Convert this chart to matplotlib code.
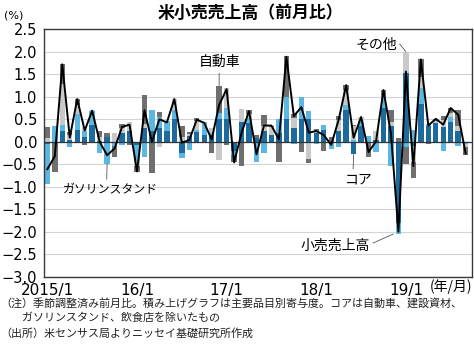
import numpy as np
import matplotlib
matplotlib.use("Agg")
import matplotlib.pyplot as plt

plt.rcParams['font.family'] = ['Noto Sans CJK JP', 'DejaVu Sans']

x_labels = ['2015/1', '16/1', '17/1', '18/1', '19/1']
x_label_pos = [0, 12, 24, 36, 48]

series_names = ['コア', 'ガソリンスタンド', 'その他', '自動車']

core = [-0.06, 0.00, 0.23, 0.05, 0.27, 0.10, 0.38, 0.02, 0.10, 0.00, 0.20, 0.25,
        -0.08, 0.30, 0.25, 0.30, 0.25, 0.50, -0.25, 0.12, 0.22, 0.15, 0.15, 0.50,
        0.50, -0.20, 0.45, 0.42, 0.08, 0.25, 0.15, 0.20, 0.50, 0.30, 0.50, 0.50,
        0.20, 0.27, 0.00, 0.24, 0.70, -0.28, 0.35, 0.00, 0.05, 0.75, 0.35, -1.80,
        1.53, -0.10, 0.85, 0.35, 0.42, 0.33, 0.45, 0.25, 0.00]
gas = [-0.89, 0.36, 0.15, -0.12, 0.35, 0.15, 0.30, -0.25, -0.50, -0.10, -0.08, 0.00,
       -0.35, -0.35, 0.45, 0.25, 0.22, 0.20, -0.12, -0.18, 0.05, 0.28, 0.05, 0.15,
       0.25, -0.10, 0.00, 0.10, -0.45, -0.25, 0.00, 0.30, 0.50, -0.05, 0.50, 0.18,
       -0.04, 0.11, -0.17, -0.12, 0.12, 0.05, 0.08, 0.12, -0.23, 0.28, -0.54, -0.25,
       -0.12, 0.27, 0.35, 0.05, 0.00, -0.20, 0.10, -0.10, -0.06]
other = [0.09, 0.00, 0.90, 0.10, 0.20, 0.08, 0.02, 0.08, 0.00, 0.20, 0.10, 0.20,
         -0.10, 0.10, 0.00, -0.12, 0.00, 0.25, 0.10, 0.05, 0.20, 0.00, 0.10, -0.40,
         0.45, 0.00, 0.28, 0.10, 0.00, 0.10, 0.18, 0.00, 0.00, 0.22, 0.00, -0.38,
         0.05, 0.00, 0.00, 0.25, 0.33, 0.30, 0.12, -0.02, 0.20, 0.00, 0.10, 0.00,
         0.47, -0.35, 0.25, 0.00, 0.05, 0.15, 0.10, 0.10, -0.06]
auto = [0.24, -0.68, 0.45, 0.06, 0.13, -0.08, 0.00, 0.15, 0.10, -0.25, 0.10, -0.07,
        -0.15, 0.65, -0.70, 0.12, 0.00, 0.00, 0.25, 0.05, 0.05, 0.00, -0.25, 0.60,
        -0.08, -0.15, -0.53, 0.08, 0.08, 0.25, 0.03, -0.45, 0.90, 0.10, -0.23, -0.10,
        0.03, -0.21, 0.11, 0.08, 0.11, 0.02, 0.00, -0.33, 0.00, 0.12, 0.25, 0.08,
        -0.38, -0.35, 0.38, -0.05, 0.04, 0.10, 0.10, 0.35, -0.18]
total = [-0.61, -0.32, 1.72, 0.09, 0.95, 0.25, 0.69, 0.00, -0.30, -0.15, 0.33, 0.38,
         -0.66, 0.70, 0.00, 0.50, 0.43, 0.95, -0.02, 0.04, 0.49, 0.42, 0.05, 0.82,
         1.17, -0.46, 0.20, 0.68, -0.28, 0.36, 0.36, 0.05, 1.89, 0.57, 0.77, 0.20,
         0.24, 0.15, -0.07, 0.49, 1.26, 0.09, 0.55, -0.23, 0.01, 1.15, 0.18, -2.00,
         1.56, -0.54, 1.83, 0.36, 0.51, 0.38, 0.75, 0.60, -0.26]

colors = ['#1d6b9e', '#5bb8e2', '#c9c9c9', '#6f6f6f']

W, H = 474, 353
fig = plt.figure(figsize=(W / 100, H / 100), dpi=100)
ax = fig.add_axes([44 / W, 1 - 276.7 / H, (472 - 44) / W, (276.7 - 29.3) / H])

n = len(total)
xs = np.arange(n)
pos_bottom = np.zeros(n)
neg_bottom = np.zeros(n)
tops = {}
bots = {}
for name, vals, c in zip(series_names, [core, gas, other, auto], colors):
    v = np.array(vals)
    b = np.where(v >= 0, pos_bottom, neg_bottom)
    ax.bar(xs, v, bottom=b, width=0.72, color=c, zorder=2, linewidth=0)
    pos_bottom = pos_bottom + np.where(v > 0, v, 0)
    neg_bottom = neg_bottom + np.where(v < 0, v, 0)
    tops[name] = pos_bottom.copy()
    bots[name] = neg_bottom.copy()

ax.plot(xs, total, color='black', lw=1.4, zorder=4)

ax.set_ylim(-3.0, 2.5)
ax.set_xlim(-0.45, 56.85)
ax.set_yticks(np.arange(-3.0, 2.51, 0.5))
ax.yaxis.grid(True, color='#d4d4d4', lw=0.8, zorder=0)
ax.set_axisbelow(True)
ax.axhline(0, color='#333333', lw=0.9, zorder=3)
ax.set_xticks(x_label_pos)
ax.set_xticklabels(x_labels)
ax.tick_params(axis='y', length=0, labelsize=10.5, pad=5)
ax.tick_params(axis='x', length=0, labelsize=11, pad=4.5)
for lab in ax.get_xticklabels() + ax.get_yticklabels():
    lab.set_family(['DejaVu Sans'])
for s in ax.spines.values():
    s.set_color('#3a3a3a')
    s.set_linewidth(1.0)

fig.text(250 / W, 1 - 12.5 / H, '米小売売上高（前月比）', ha='center', va='center',
         fontsize=12.2, fontweight='bold')
fig.text(4 / W, 1 - 16 / H, '(%)', ha='left', va='center', fontsize=8,
         family=['DejaVu Sans'])
fig.text(472 / W, 1 - 287 / H, '(年/月)', ha='right', va='center', fontsize=10)

lc = '#555555'
ax.annotate('その他', xy=(48, tops['自動車'][48]), xytext=(44.0, 2.16),
            ha='center', va='center', fontsize=10,
            arrowprops=dict(arrowstyle='-', color=lc, lw=0.6, shrinkA=0, shrinkB=0,
                            relpos=(1.0, 0.8)))
ax.annotate('自動車', xy=(23, tops['自動車'][23]), xytext=(23.0, 1.77),
            ha='center', va='center', fontsize=10,
            arrowprops=dict(arrowstyle='-', color=lc, lw=0.6, shrinkA=1, shrinkB=0,
                            relpos=(0.5, 0.0)))
ax.annotate('ガソリンスタンド', xy=(8, bots['ガソリンスタンド'][8]), xytext=(8.5, -1.07),
            ha='center', va='center', fontsize=8.6,
            arrowprops=dict(arrowstyle='-', color=lc, lw=0.6, shrinkA=1, shrinkB=0,
                            relpos=(0.455, 1.0)))
ax.annotate('コア', xy=(41, bots['コア'][41]), xytext=(41.7, -0.85),
            ha='center', va='center', fontsize=10,
            arrowprops=dict(arrowstyle='-', color=lc, lw=0.6, shrinkA=1, shrinkB=0,
                            relpos=(0.29, 1.0)))
ax.annotate('小売売上高', xy=(47, total[47]), xytext=(38.6, -2.31),
            ha='center', va='center', fontsize=10,
            arrowprops=dict(arrowstyle='-', color=lc, lw=0.6, shrinkA=0, shrinkB=4,
                            relpos=(1.0, 0.6)))

notes = ['（注）季節調整済み前月比。積み上げグラフは主要品目別寄与度。コアは自動車、建設資材、',
         '　　ガソリンスタンド、飲食店を除いたもの',
         '（出所）米センサス局よりニッセイ基礎研究所作成']
for k, t in enumerate(notes):
    fig.text(0 / W, 1 - (303 + 15 * k) / H, t, ha='left', va='center', fontsize=7.95,
             color='#222222')

fig.savefig('out.png', dpi=100)
